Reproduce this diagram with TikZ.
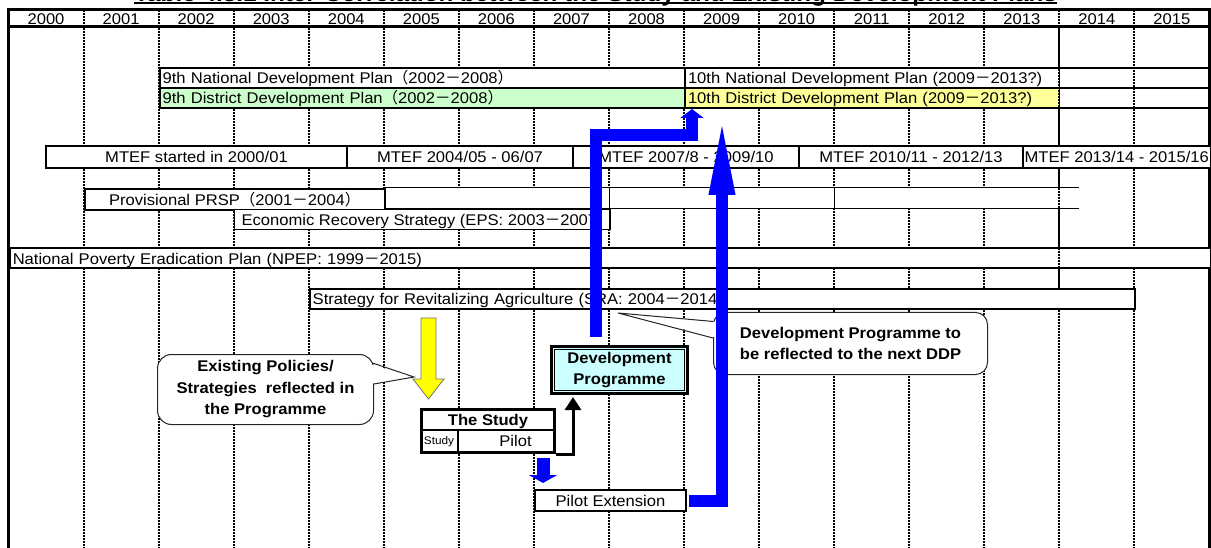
\documentclass[tikz,border=0pt]{standalone}
\usepackage{fontspec}
\setmainfont{Liberation Sans}[FakeStretch=1.07]
\newfontfamily\cjkfont{Noto Sans CJK JP}
\usetikzlibrary{arrows.meta,calc}

% full-width punctuation taken from the CJK face
\newcommand{\fwlp}{{\cjkfont （}}
\newcommand{\fwrp}{{\cjkfont ）}}
\newcommand{\fwdash}{{\cjkfont －}}

\definecolor{ninegreen}{HTML}{CCFFCC}
\definecolor{tenyellow}{HTML}{FFFF99}
\definecolor{progcyan}{HTML}{CCFFFF}
\definecolor{flowblue}{HTML}{0000FF}
\definecolor{policyyellow}{HTML}{FFFF00}

\tikzset{
  base font/.style={font=\fontsize{15.5}{18}\selectfont},
  gridline/.style={line width=2pt, dash pattern=on 2pt off 1pt, black},
  frameline/.style={line width=3pt},
  yearlbl/.style={base font, inner sep=0pt, text height=11pt, text depth=0pt},
  planbox/.style={base font, draw, line width=2pt, anchor=north west, inner xsep=3pt,
    inner ysep=0pt, minimum height=20pt, text height=12pt, text depth=0pt, align=left},
  spanbox/.style={base font, draw, line width=2pt, fill=white, anchor=north west,
    inner sep=0pt, text height=12pt, text depth=0pt},
  calloutbox/.style={draw=black!85, line width=1pt, fill=white, rounded corners=#1,
    anchor=north west, inner sep=0pt, font=\bfseries\fontsize{15.5}{21.5}\selectfont,
    align=center},
  calloutbox/.default=14pt,
  pointerfill/.style={fill=white},
  pointeredge/.style={draw=black!85, line width=1pt, line join=miter},
  flowarrow/.style={draw=flowblue, line join=miter},
  stemarrow/.style={line width=3pt, line join=miter, -{Triangle[width=16pt,length=13pt]}},
}

\begin{document}
\begin{tikzpicture}[x=1pt,y=-1pt]
\useasboundingbox (0,0) rectangle (1211,548);

% heading, mostly above the page edge
\node[font=\bfseries\fontsize{22.7}{24}\selectfont, inner sep=0pt, anchor=base] (title)
  at (595.5,1.5) {Table 4.3.1 Inter-Correlation between the Study and Existing Development Plans};
\draw[line width=1.5pt] ($(title.base west)+(0,1.5)$) -- ($(title.base east)+(0,1.5)$);

% year grid
\foreach \k in {1,...,15}
  \draw[gridline] ({8.5+75.06*\k},10) -- ({8.5+75.06*\k},552);
\draw[frameline] (8.5,552) -- (8.5,10) -- (1209.5,10) -- (1209.5,552);
\draw[frameline] (8.5,27) -- (1209.5,27);
\foreach \k in {0,...,15}{
  \pgfmathtruncatemacro\yr{2000+\k}
  \node[yearlbl] (yr\k) at ({46.03+75.06*\k},19) {\yr};
}

% development plans
\fill[white] (684,67) rectangle (1059.3,87);
\fill[tenyellow] (684,87) rectangle (1059.3,107);
\node[planbox, fill=white, text width=519.4pt] (nat9) at (158.6,67)
  {9th National Development Plan\fwlp 2002\fwdash 2008\fwrp};
\node[planbox, fill=ninegreen, text width=519.4pt] (dis9) at (158.6,87)
  {9th District Development Plan\fwlp 2002\fwdash 2008\fwrp};
\node[planbox, text width=519.5pt] (nat10) at (684,67)
  {10th National Development Plan (2009\fwdash 2013?)};
\node[planbox, text width=519.5pt] (dis10) at (684,87)
  {10th District Development Plan (2009\fwdash 2013?)};

% MTEF periods
\node[spanbox, minimum width=301pt, minimum height=22pt] (mtef1) at (45,145) {MTEF started in 2000/01};
\node[spanbox, minimum width=226pt, minimum height=22pt] (mtef2) at (346,145) {MTEF 2004/05 - 06/07};
\node[spanbox, minimum width=226pt, minimum height=22pt] (mtef3) at (572,145) {MTEF 2007/8 - 2009/10};
\node[spanbox, minimum width=224pt, minimum height=22pt] (mtef4) at (798,145) {MTEF 2010/11 - 2012/13};
\node[spanbox, minimum width=187.5pt, minimum height=22pt] (mtef5) at (1022,145) {MTEF 2013/14 - 2015/16};

% PRSP row with its empty follow-on cells
\fill[white] (383.8,188) rectangle (1079,209);
\draw[line width=1pt] (383.8,188) -- (1079,188) (383.8,209) -- (1079,209)
  (609,188) -- (609,209) (834.2,188) -- (834.2,209);
\node[spanbox, minimum width=300.2pt, minimum height=21pt] (prsp) at (83.56,188)
  {Provisional PRSP\fwlp 2001\fwdash 2004\fwrp};
\node[spanbox, line width=1.5pt, minimum width=375.3pt, minimum height=20pt] (eps) at (233.7,209)
  {Economic Recovery Strategy (EPS: 2003\fwdash 2007)};

% long-term strategies
\node[planbox, fill=white, line width=2.5pt, text width=1195pt] (npep) at (8.5,247)
  {National Poverty Eradication Plan (NPEP: 1999\fwdash 2015)};
\node[planbox, fill=white, text width=819.7pt] (sra) at (308.7,288)
  {Strategy for Revitalizing Agriculture (SRA: 2004\fwdash 2014)};

% the 2014 boundary stays visible across these rows
\draw[gridline] (1059.3,27) -- (1059.3,145) (1059.3,167) -- (1059.3,288);

% callout on the policies arrow
\node[calloutbox, minimum width=216pt, minimum height=70pt] (policynote) at (157,354)
  {Existing Policies/\\Strategies\ \ reflected in\\the Programme};
\coordinate (policytip) at (414,377);
\fill[pointerfill] ($(policynote.north east)+(-5,10)$) -- (policytip) -- ($(policynote.north east)+(-5,30)$) -- cycle;
\draw[pointeredge] ($(policynote.north east)+(-1.5,9)$) -- (policytip) -- ($(policynote.north east)+(0,30)$);

% callout on the next DDP
\node[calloutbox=12pt, minimum width=274pt, minimum height=62pt] (ddpnote) at (713,312)
  {Development Programme to\\be reflected to the next DDP};
\coordinate (ddptip) at (618,313);
\fill[pointerfill] ($(ddpnote.north west)+(5,10)$) -- (ddptip) -- ($(ddpnote.north west)+(5,26)$) -- cycle;
\draw[pointeredge] ($(ddpnote.north west)+(0.5,9.5)$) -- (ddptip) -- ($(ddpnote.north west)+(0,26)$);

% policies feeding the study
\filldraw[fill=policyyellow, draw=black!55, line width=0.8pt]
  (421,318) -- (436,318) -- (436,379) -- (444,379) -- (428.5,399) -- (413,379) -- (421,379) -- cycle;

% the study
\node[draw, line width=3pt, fill=white, anchor=north west, minimum width=133pt,
  minimum height=43pt, inner sep=0pt] (thestudy) at (420,408) {};
\draw[line width=1.5pt] ($(thestudy.north west)+(0,22)$) -- ($(thestudy.north east)+(0,22)$);
\draw[line width=1.2pt] ($(thestudy.north west)+(38,22)$) -- ($(thestudy.south west)+(38,0)$);
\node[font=\bfseries\fontsize{15.5}{18}\selectfont, inner sep=0pt, text height=12pt,
  text depth=0pt] (studyhead) at ($(thestudy.north)+(0,11)$) {The Study};
\node[font=\fontsize{11}{13}\selectfont, inner sep=0pt, text height=8pt, text depth=0pt]
  (studycell) at ($(thestudy.north west)+(19,32.5)$) {Study};
\node[base font, inner sep=0pt, text height=12pt, text depth=0pt]
  (pilotcell) at ($(thestudy.north west)+(95.5,32.5)$) {Pilot};

% development programme
\node[draw, line width=3pt, fill=progcyan, anchor=north west, minimum width=136pt,
  minimum height=47pt, inner sep=0pt, font=\bfseries\fontsize{15.5}{21.5}\selectfont,
  align=center] (devprog) at (550,345) {Development\\Programme};
\draw[line width=1.2pt] ($(devprog.north west)+(4.5,4.5)$) rectangle ($(devprog.south east)+(-4.5,-4.5)$);

% pilot extension
\node[spanbox, minimum width=151pt, minimum height=21pt] (pilotext) at (534,489) {Pilot Extension};

% flows
\draw[stemarrow] (thestudy.south east) -| ($(devprog.south west)+(23,2)$);
\draw[flowarrow, line width=13pt, -{Triangle[width=28pt,length=8pt]}]
  ($(thestudy.south west)+(123,4)$) -- ($(pilotext.north west)+(9,-6)$);
\draw[flowarrow, line width=12pt, -{Triangle[width=23pt,length=9pt]}]
  ($(devprog.north west)+(46,-8)$) |- ($(dis10.south west)+(8,26)$) -- ($(dis10.south west)+(8,0)$);
\draw[flowarrow, line width=12pt, -{Triangle[width=23pt,length=80pt]}]
  ([xshift=2pt]pilotext.east) -| ($(dis10.south west)+(38,6)$);
\end{tikzpicture}
\end{document}
